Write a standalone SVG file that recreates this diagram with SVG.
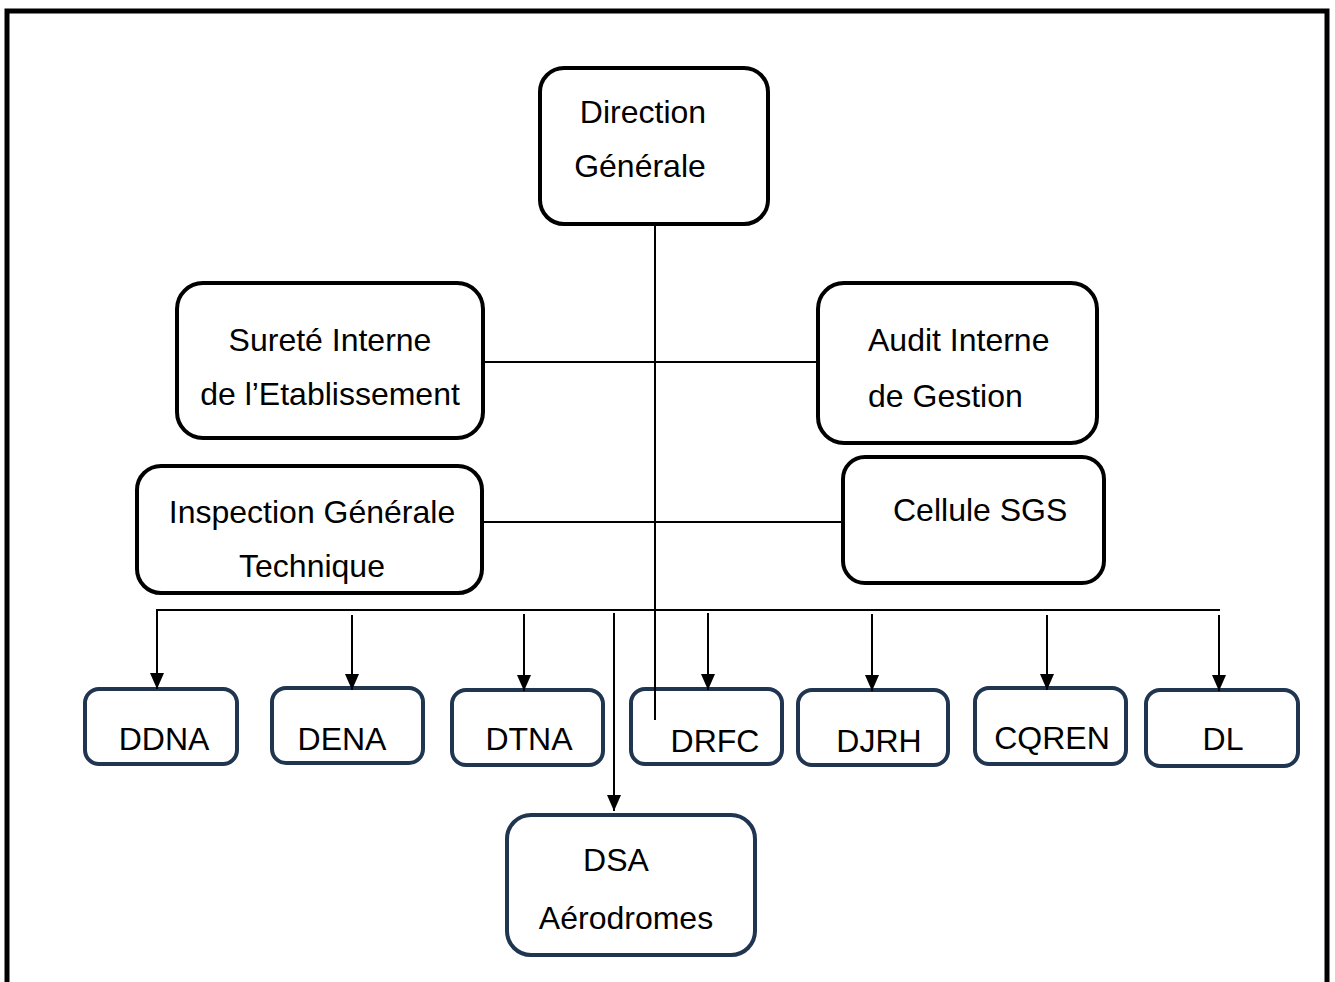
<svg xmlns="http://www.w3.org/2000/svg" width="1335" height="982" viewBox="0 0 1335 982">
  <style>
    .frame { fill: none; stroke: #000; stroke-width: 5; }
    .top { fill: #fff; stroke: #000; stroke-width: 4; }
    .unit { fill: #fff; stroke: #1f3550; stroke-width: 4; }
    .line { fill: none; stroke: #000; stroke-width: 2; }
    .arrow { fill: none; stroke: #000; stroke-width: 2; marker-end: url(#head); }
    text { font-family: "Liberation Sans", Arial, sans-serif; font-size: 32px; fill: #000; }
    .c { text-anchor: middle; }
  </style>
  <defs>
    <marker id="head" viewBox="0 0 16 14" markerWidth="16" markerHeight="14" refX="16" refY="7" orient="auto" markerUnits="userSpaceOnUse">
      <path d="M0,0 L16,7 L0,14 Z" fill="#000"/>
    </marker>
  </defs>

  <rect width="1335" height="982" fill="#fff"/>
  <!-- page frame -->
  <path class="frame" d="M7,982 V11 H1327 V982"/>

  <g id="direction-generale">
    <rect class="top" x="540" y="68" width="228" height="156" rx="24"/>
    <text x="643" y="123" class="c">Direction</text>
    <text x="640" y="177" class="c">Générale</text>
  </g>

  <g id="surete-interne">
    <rect class="top" x="177" y="283" width="306" height="155" rx="26"/>
    <text x="330" y="351" class="c">Sureté Interne</text>
    <text x="330" y="405" class="c">de l’Etablissement</text>
  </g>

  <g id="audit-interne">
    <rect class="top" x="818" y="283" width="279" height="160" rx="26"/>
    <text x="868" y="351">Audit Interne</text>
    <text x="868" y="407">de Gestion</text>
  </g>

  <g id="inspection-generale">
    <rect class="top" x="137" y="466" width="345" height="127" rx="24"/>
    <text x="312" y="523" class="c">Inspection Générale</text>
    <text x="312" y="577" class="c">Technique</text>
  </g>

  <g id="cellule-sgs">
    <rect class="top" x="843" y="457" width="261" height="126" rx="22"/>
    <text x="893" y="521">Cellule SGS</text>
  </g>

  <g id="ddna">
    <rect class="unit" x="85" y="689" width="152" height="75" rx="14"/>
    <text x="164" y="750" class="c">DDNA</text>
  </g>
  <g id="dena">
    <rect class="unit" x="272" y="688" width="151" height="75" rx="14"/>
    <text x="342" y="750" class="c">DENA</text>
  </g>
  <g id="dtna">
    <rect class="unit" x="452" y="690" width="151" height="75" rx="14"/>
    <text x="529" y="750" class="c">DTNA</text>
  </g>
  <g id="drfc">
    <rect class="unit" x="631" y="689" width="151" height="75" rx="14"/>
    <text x="715" y="752" class="c">DRFC</text>
  </g>
  <g id="djrh">
    <rect class="unit" x="798" y="690" width="150" height="75" rx="14"/>
    <text x="879" y="752" class="c">DJRH</text>
  </g>
  <g id="cqren">
    <rect class="unit" x="975" y="688" width="151" height="76" rx="14"/>
    <text x="1052" y="749" class="c">CQREN</text>
  </g>
  <g id="dl">
    <rect class="unit" x="1146" y="690" width="152" height="76" rx="14"/>
    <text x="1223" y="750" class="c">DL</text>
  </g>
  <g id="dsa">
    <rect class="unit" x="507" y="815" width="248" height="140" rx="24"/>
    <text x="616" y="871" class="c">DSA</text>
    <text x="626" y="929" class="c">Aérodromes</text>
  </g>

  <!-- connectors, drawn last so the trunk stays visible inside DRFC -->
  <g id="connectors">
    <line class="line" x1="655" y1="224" x2="655" y2="720"/>
    <line class="line" x1="483" y1="362" x2="818" y2="362"/>
    <line class="line" x1="482" y1="522" x2="843" y2="522"/>
    <line class="line" x1="156" y1="610" x2="1220" y2="610"/>
    <line class="arrow" x1="157" y1="610" x2="157" y2="689"/>
    <line class="arrow" x1="352" y1="615" x2="352" y2="690"/>
    <line class="arrow" x1="524" y1="614" x2="524" y2="691"/>
    <line class="arrow" x1="708" y1="613" x2="708" y2="690"/>
    <line class="arrow" x1="872" y1="614" x2="872" y2="691"/>
    <line class="arrow" x1="1047" y1="615" x2="1047" y2="690"/>
    <line class="arrow" x1="1219" y1="615" x2="1219" y2="691"/>
    <line class="arrow" x1="614" y1="613" x2="614" y2="811"/>
  </g>
</svg>
